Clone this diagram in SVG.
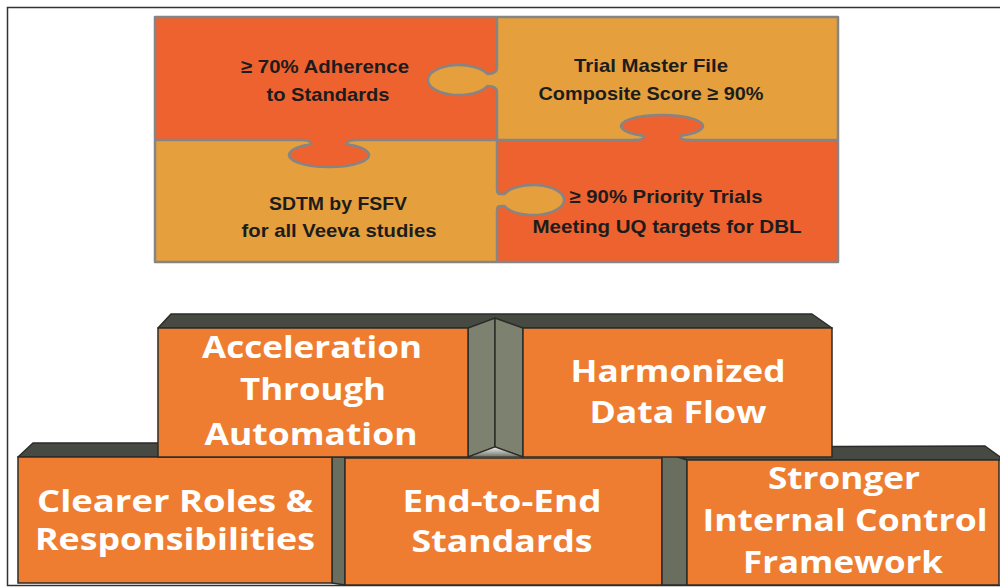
<svg xmlns="http://www.w3.org/2000/svg" width="1000" height="588" viewBox="0 0 1000 588">
  <defs>
    <style>
      .red { fill: #EE6230; }
      .gold { fill: #E5A03D; }
      .seam { fill: none; stroke: #858585; stroke-width: 2.5; stroke-linejoin: round; }
      .ptxt { font-family: "Liberation Sans", Arial, sans-serif; font-weight: bold; font-size: 19px; fill: #1c1c1c; text-anchor: middle; }
      .front { fill: #EE7D31; stroke: #2b2d28; stroke-width: 1.5; }
      .top { fill: #474a42; stroke: #2b2d28; stroke-width: 1.5; stroke-linejoin: round; }
      .side { fill: #7d8270; stroke: #2b2d28; stroke-width: 1.5; stroke-linejoin: round; }
      .side2 { fill: #6a6e5e; stroke: #2b2d28; stroke-width: 1.5; stroke-linejoin: round; }
      .btxt { font-family: "Open Sans", "DejaVu Sans", sans-serif; font-weight: bold; font-size: 30px; fill: #ffffff; text-anchor: middle; }
    </style>
    <linearGradient id="floor" x1="0" y1="0" x2="0" y2="1">
      <stop offset="0" stop-color="#f2f2f2"/>
      <stop offset="1" stop-color="#6d7064"/>
    </linearGradient>
  </defs>

  <rect width="1000" height="588" fill="#ffffff"/>
  <!-- outer frame -->
  <rect x="7.5" y="7.5" width="1000" height="578" fill="none" stroke="#333333" stroke-width="1.5"/>

  <!-- puzzle of four targets -->
  <g id="puzzle">
    <g id="piece-adherence">
      <rect class="red" x="155" y="17" width="342" height="123"/>
      <text class="ptxt" x="325" y="73" textLength="168" lengthAdjust="spacingAndGlyphs">≥ 70% Adherence</text>
      <text class="ptxt" x="328" y="101" textLength="123" lengthAdjust="spacingAndGlyphs">to Standards</text>
    </g>
    <g id="piece-tmf">
      <rect class="gold" x="497" y="17" width="341" height="123"/>
      <text class="ptxt" x="651" y="72" textLength="154" lengthAdjust="spacingAndGlyphs">Trial Master File</text>
      <text class="ptxt" x="651" y="100" textLength="225" lengthAdjust="spacingAndGlyphs">Composite Score ≥ 90%</text>
    </g>
    <g id="piece-sdtm">
      <rect class="gold" x="155" y="140" width="342" height="122"/>
    </g>
    <g id="piece-priority">
      <rect class="red" x="497" y="140" width="341" height="122"/>
    </g>

    <!-- seams between pieces -->
    <line class="seam" x1="497" y1="17" x2="497" y2="262"/>
    <line class="seam" x1="155" y1="140" x2="838" y2="140"/>

    <!-- knobs: fill (covering the seam at the neck), then the outline -->
    <path class="gold" d="M497,68 C497,73 493,74 487.4,74 A31 15 0 1 0 487.4,86 C493,86 497,87 497,92 L500,92 L500,68 Z"/>
    <path class="seam" d="M497,68 C497,73 493,74 487.4,74 A31 15 0 1 0 487.4,86 C493,86 497,87 497,92"/>

    <path class="gold" d="M497,190 C497,195 500,194 504.6,194 A31 15 0 1 1 504.6,206 C500,206 497,205 497,210 L494,210 L494,190 Z"/>
    <path class="seam" d="M497,190 C497,195 500,194 504.6,194 A31 15 0 1 1 504.6,206 C500,206 497,205 497,210"/>

    <path class="red" d="M634,140 C640,140 644,139 644,135.9 A41 11 0 1 1 680,135.9 C680,139 684,140 690,140 L690,143 L634,143 Z"/>
    <path class="seam" d="M634,140 C640,140 644,139 644,135.9 A41 11 0 1 1 680,135.9 C680,139 684,140 690,140"/>

    <path class="red" d="M303,140 C307,140 311,141 311,144.3 A40 12 0 1 0 347,144.3 C347,141 351,140 355,140 L355,137 L303,137 Z"/>
    <path class="seam" d="M303,140 C307,140 311,141 311,144.3 A40 12 0 1 0 347,144.3 C347,141 351,140 355,140"/>

    <rect class="seam" x="155" y="17" width="683" height="245"/>

    <text class="ptxt" x="338" y="210" textLength="138" lengthAdjust="spacingAndGlyphs">SDTM by FSFV</text>
    <text class="ptxt" x="339" y="237" textLength="195" lengthAdjust="spacingAndGlyphs">for all Veeva studies</text>
    <text class="ptxt" x="666" y="203" textLength="193" lengthAdjust="spacingAndGlyphs">≥ 90% Priority Trials</text>
    <text class="ptxt" x="667" y="233" textLength="269" lengthAdjust="spacingAndGlyphs">Meeting UQ targets for DBL</text>
  </g>

  <!-- bottom row of blocks (drawn first, upper row overlaps them) -->
  <g id="block-roles">
    <polygon class="top" points="18,457 33,443 470,443 470,457"/>
    <polygon class="side2" points="332,457 345,457 345,585 332,583"/>
    <rect class="front" x="18" y="457" width="314" height="126"/>
    <text class="btxt" x="175" y="512" textLength="276" lengthAdjust="spacingAndGlyphs">Clearer Roles &amp;</text>
    <text class="btxt" x="175" y="550" textLength="280" lengthAdjust="spacingAndGlyphs">Responsibilities</text>
  </g>

  <g id="block-standards">
    <rect class="front" x="345" y="458" width="317" height="127"/>
    <text class="btxt" x="502" y="512" textLength="199" lengthAdjust="spacingAndGlyphs">End-to-End</text>
    <text class="btxt" x="502" y="552" textLength="181" lengthAdjust="spacingAndGlyphs">Standards</text>
  </g>

  <g id="block-control">
    <polygon class="top" points="687,460 665,447 985,446 1000,457 1000,460"/>
    <polygon class="side2" points="662,452 687,460 687,585 662,585"/>
    <rect class="front" x="687" y="460" width="312" height="125"/>
    <text class="btxt" x="844" y="489" textLength="152" lengthAdjust="spacingAndGlyphs">Stronger</text>
    <text class="btxt" x="845" y="531" textLength="285" lengthAdjust="spacingAndGlyphs">Internal Control</text>
    <text class="btxt" x="843" y="573" textLength="200" lengthAdjust="spacingAndGlyphs">Framework</text>
  </g>

  <!-- upper row of blocks -->
  <g id="block-acceleration">
    <polygon class="top" points="158,328 171,314 812,314 832,328"/>
    <polygon class="side" points="468,328 495,318 495,447 468,457"/>
    <rect class="front" x="158" y="328" width="310" height="129"/>
    <text class="btxt" x="312" y="358" textLength="220" lengthAdjust="spacingAndGlyphs">Acceleration</text>
    <text class="btxt" x="313" y="400" textLength="146" lengthAdjust="spacingAndGlyphs">Through</text>
    <text class="btxt" x="311" y="445" textLength="213" lengthAdjust="spacingAndGlyphs">Automation</text>
  </g>

  <g id="block-harmonized">
    <polygon class="side" points="495,318 523,328 523,457 495,447" fill="#858a76"/>
    <polygon points="468,457 495,447 523,457" fill="url(#floor)" stroke="#2b2d28" stroke-width="1.2"/>
    <rect class="front" x="523" y="328" width="309" height="129"/>
    <text class="btxt" x="678" y="382" textLength="215" lengthAdjust="spacingAndGlyphs">Harmonized</text>
    <text class="btxt" x="678" y="423" textLength="177" lengthAdjust="spacingAndGlyphs">Data Flow</text>
  </g>
</svg>
